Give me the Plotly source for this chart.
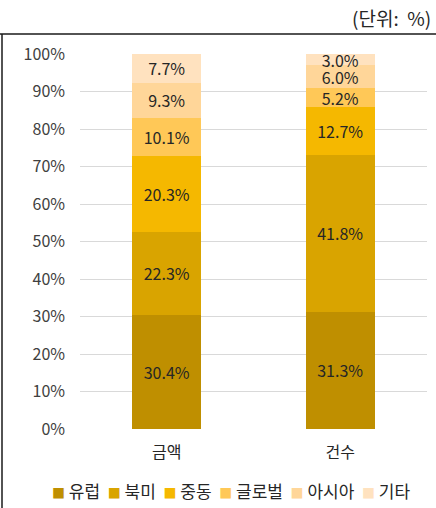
import plotly.graph_objects as go

categories = ["금액", "건수"]
regions = ["유럽", "북미", "중동", "글로벌", "아시아", "기타"]
amount_share = [30.4, 22.3, 20.3, 10.1, 9.3, 7.7]
count_share = [31.3, 41.8, 12.7, 5.2, 6.0, 3.0]
colors = ["#BF8F00", "#D9A400", "#F5B800", "#FFC857", "#FFD699", "#FFE2BF"]
y_ticks = [0, 10, 20, 30, 40, 50, 60, 70, 80, 90, 100]

W, H = 436, 508
L, R, T, B = 80, 9, 54, 79
pw, ph = W - L - R, H - T - B


def px_x(x):
    return (x - L) / pw


def px_y(y):
    return (H - B - y) / ph


font_family = "Noto Sans CJK KR, Noto Sans, sans-serif"

fig = go.Figure()
for i, name in enumerate(regions):
    vals = [amount_share[i], count_share[i]]
    fig.add_trace(go.Bar(
        name=name,
        x=categories,
        y=vals,
        marker=dict(color=colors[i], line=dict(width=0)),
        text=[f"{v:.1f}%" for v in vals],
        textposition="inside",
        insidetextanchor="middle",
        textangle=0,
        textfont=dict(size=16, color="#262626", family=font_family),
        width=0.4,
        showlegend=False,
    ))

fig.update_layout(
    barmode="stack",
    barnorm="percent",
    width=W,
    height=H,
    margin=dict(l=L, r=R, t=T, b=B, autoexpand=False),
    paper_bgcolor="white",
    plot_bgcolor="white",
    font=dict(family=font_family, color="#404040", size=16),
    uniformtext=dict(minsize=16, mode="show"),
    showlegend=False,
    xaxis=dict(
        showgrid=False, showline=False, zeroline=False,
        tickfont=dict(size=16, color="#262626"),
        ticks="", ticklabelstandoff=12,
    ),
    yaxis=dict(
        range=[0, 100],
        tickvals=y_ticks,
        ticktext=[f"{v}%" for v in y_ticks],
        showgrid=True, gridcolor="#D9D9D9", gridwidth=1,
        zeroline=False, showline=False,
        tickfont=dict(size=16, color="#404040"),
        ticks="", ticklabelstandoff=14,
    ),
)

# Legend row: a small coloured square before each region name
legend_text = "  ".join(
    f"<span style='color:{c};font-size:13px'>■</span> {name}"
    for name, c in zip(regions, colors)
)
fig.add_annotation(
    text=legend_text,
    xref="paper", yref="paper",
    x=px_x(231), y=px_y(490),
    xanchor="center", yanchor="middle",
    showarrow=False,
    font=dict(size=17, color="#262626"),
)

# Unit note above the chart
fig.add_annotation(
    text="(단위:  %)",
    xref="paper", yref="paper",
    x=px_x(433), y=px_y(18),
    xanchor="right", yanchor="middle",
    showarrow=False,
    font=dict(size=19, color="#262626"),
)

# Frame lines: top rule and left edge
fig.add_shape(type="line", xref="paper", yref="paper",
              x0=px_x(0), x1=px_x(W), y0=px_y(34), y1=px_y(34),
              line=dict(color="#1a1a1a", width=1.5))
fig.add_shape(type="line", xref="paper", yref="paper",
              x0=px_x(2), x1=px_x(2), y0=px_y(34), y1=px_y(H),
              line=dict(color="#1a1a1a", width=1.5))

fig.write_html("out.html")
